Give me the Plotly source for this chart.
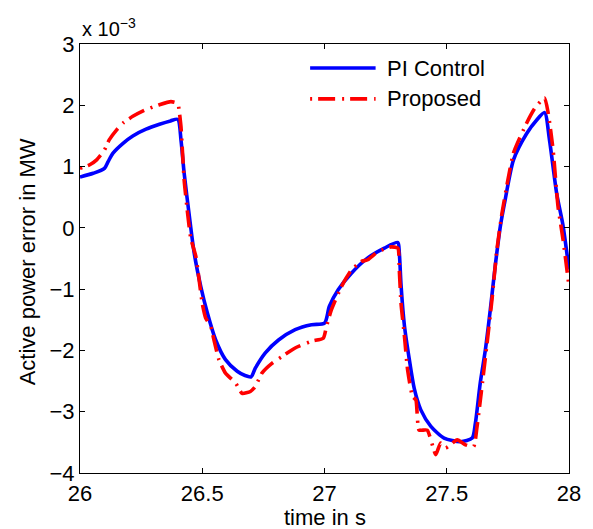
import plotly.graph_objects as go

# time in s
t_pi = [26.0, 26.054, 26.10, 26.115, 26.135, 26.176, 26.216, 26.27, 26.325, 26.37, 26.40, 26.413,
        26.426, 26.447, 26.467, 26.494, 26.521, 26.555, 26.595, 26.643, 26.675, 26.70, 26.717,
        26.758, 26.812, 26.88, 26.947, 27.0, 27.02, 27.056, 27.11, 27.177, 27.245, 27.30, 27.306,
        27.313, 27.327, 27.347, 27.367, 27.394, 27.435, 27.489, 27.556, 27.604, 27.617, 27.637,
        27.658, 27.678, 27.698, 27.719, 27.739, 27.773, 27.827, 27.868, 27.90, 27.92, 27.95,
        27.975, 28.0]
# active power error, x 1e-3 MW
pi_ctrl = [0.83, 0.89, 0.97, 1.08, 1.22, 1.38, 1.50, 1.61, 1.69, 1.745, 1.77, 1.435,
           0.89, 0.20, -0.41, -0.96, -1.39, -1.83, -2.15, -2.34, -2.41, -2.43, -2.29,
           -2.04, -1.83, -1.66, -1.58, -1.555, -1.28, -1.01, -0.74, -0.49, -0.33, -0.24, -0.41,
           -0.93, -1.60, -2.15, -2.62, -2.97, -3.24, -3.43, -3.49, -3.43, -3.19, -2.53,
           -1.99, -1.34, -0.63, 0.02, 0.46, 1.11, 1.54, 1.76, 1.88, 1.44, 0.55,
           0.05, -0.68]

t_pr = [26.0, 26.04, 26.068, 26.10, 26.12, 26.15, 26.176, 26.216, 26.264, 26.325, 26.372, 26.40,
        26.406, 26.413, 26.426, 26.44, 26.453, 26.474, 26.50, 26.514, 26.535, 26.548, 26.568,
        26.595, 26.636, 26.663, 26.697, 26.717, 26.744, 26.785, 26.826, 26.88, 26.947, 26.995,
        27.008, 27.028, 27.069, 27.11, 27.15, 27.177, 27.218, 27.272, 27.30, 27.306, 27.313,
        27.327, 27.34, 27.36, 27.374, 27.387, 27.42, 27.455, 27.475, 27.495, 27.543, 27.577,
        27.61, 27.624, 27.644, 27.665, 27.685, 27.705, 27.726, 27.773, 27.827, 27.86, 27.90,
        27.915, 27.935, 27.955, 27.976, 28.0]
proposed = [0.97, 1.03, 1.11, 1.27, 1.44, 1.60, 1.71, 1.82, 1.92, 2.01, 2.06, 2.03,
            1.90, 1.65, 0.78, 0.24, -0.17, -0.47, -1.23, -1.47, -1.61, -1.83, -2.15,
            -2.37, -2.53, -2.70, -2.67, -2.59, -2.37, -2.21, -2.10, -1.96, -1.85, -1.80,
            -1.61, -1.34, -0.96, -0.69, -0.55, -0.52, -0.39, -0.31, -0.33, -0.69, -1.23,
            -1.77, -2.32, -2.75, -2.81, -3.30, -3.30, -3.70, -3.51, -3.59, -3.46, -3.54,
            -3.57, -3.24, -2.59, -1.88, -1.17, -0.36, 0.24, 1.22, 1.71, 1.95, 2.12,
            1.87, 1.27, 0.35, -0.20, -0.95]

x_ticks = [26, 26.5, 27, 27.5, 28]
x_tick_labels = ["26", "26.5", "27", "27.5", "28"]
y_ticks = [-4, -3, -2, -1, 0, 1, 2, 3]
y_tick_labels = ["\u22124", "\u22123", "\u22122", "\u22121", "0", "1", "2", "3"]
series_names = ["PI Control", "Proposed"]

BLUE = "#0000ff"
RED = "#ff0000"
RED_DASH = "2px,6px,17px,7px"
FONT = "Liberation Sans, Arial, Helvetica, sans-serif"
FS = 22

fig = go.Figure()
fig.add_trace(go.Scatter(x=t_pi, y=pi_ctrl, mode="lines", name=series_names[0],
                         line=dict(color=BLUE, width=3.6, shape="spline", smoothing=0.7),
                         showlegend=False))
fig.add_trace(go.Scatter(x=t_pr, y=proposed, mode="lines", name=series_names[1],
                         line=dict(color=RED, width=3.6, dash=RED_DASH, shape="spline",
                                   smoothing=0.5),
                         showlegend=False))

axis_common = dict(showgrid=False, zeroline=False, showline=True, linecolor="black",
                   linewidth=1.2, mirror="ticks", ticks="inside", ticklen=5,
                   tickcolor="black", tickwidth=1,
                   tickfont=dict(family=FONT, size=FS, color="black"))

fig.update_xaxes(range=[26, 28], tickvals=x_ticks, ticktext=x_tick_labels, **axis_common)
fig.update_yaxes(range=[-4, 3], tickvals=y_ticks, ticktext=y_tick_labels, **axis_common)

# manual legend (MATLAB style, no box)
leg_rows = [(0.944, BLUE, "solid", series_names[0]), (0.872, RED, RED_DASH, series_names[1])]
for yy, col, dash, name in leg_rows:
    fig.add_shape(type="line", xref="paper", yref="paper", x0=0.4706, x1=0.6045, y0=yy, y1=yy,
                  line=dict(color=col, width=3.6, dash=dash))
    fig.add_annotation(xref="paper", yref="paper", x=0.6227, y=yy, xanchor="left",
                       yanchor="middle", text=name, showarrow=False,
                       font=dict(family=FONT, size=FS, color="black"))

fig.add_annotation(xref="paper", yref="paper", x=0.0, y=1.0, xanchor="left", yanchor="bottom",
                   yshift=2, text="x 10<sup>\u22123</sup>", showarrow=False,
                   font=dict(family=FONT, size=20, color="black"))
fig.add_annotation(xref="paper", yref="paper", x=-0.1055, y=0.492, xanchor="center",
                   yanchor="middle", textangle=-90, text="Active power error in MW",
                   showarrow=False, font=dict(family=FONT, size=FS, color="black"))
fig.add_annotation(xref="paper", yref="paper", x=0.5, y=-0.071, xanchor="center",
                   yanchor="top", text="time in s", showarrow=False,
                   font=dict(family=FONT, size=FS, color="black"))

fig.update_layout(width=593, height=529, margin=dict(l=80, r=20, t=44, b=56),
                  paper_bgcolor="white", plot_bgcolor="white", showlegend=False)

fig.write_html("out.html")
